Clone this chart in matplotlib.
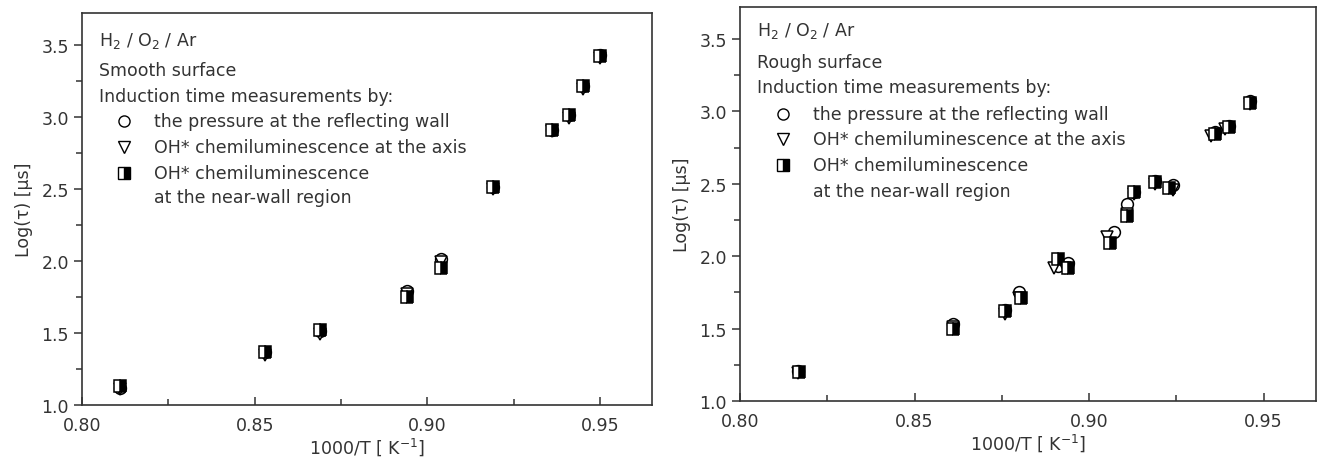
import matplotlib
matplotlib.use("Agg")
import matplotlib.pyplot as plt
from matplotlib.ticker import MultipleLocator, FormatStrFormatter

plt.rcParams["font.family"] = ["DejaVu Sans"]
plt.rcParams["mathtext.default"] = "regular"

INK = "#333333"
FS = 12.5

# smooth surface
xs = [0.811, 0.853, 0.869, 0.894, 0.904, 0.919, 0.936, 0.941, 0.945, 0.950]
ys_circ = [1.12, 1.37, 1.51, 1.79, 2.01, 2.51, 2.91, 3.01, 3.21, 3.43]
ys_tri = [1.11, 1.35, 1.49, 1.77, 1.99, 2.50, 2.90, 2.99, 3.19, 3.41]
ys_sq = [1.13, 1.37, 1.52, 1.75, 1.95, 2.51, 2.91, 3.01, 3.21, 3.42]

# rough surface
xr_circ = [0.8165, 0.861, 0.876, 0.880, 0.891, 0.894, 0.907, 0.911, 0.913, 0.919, 0.924, 0.936, 0.940, 0.946]
yr_circ = [1.21, 1.53, 1.63, 1.75, 1.93, 1.95, 2.17, 2.36, 2.44, 2.52, 2.49, 2.86, 2.90, 3.07]
xr_tri = [0.8165, 0.861, 0.876, 0.880, 0.890, 0.893, 0.905, 0.911, 0.913, 0.919, 0.924, 0.935, 0.939, 0.946]
yr_tri = [1.19, 1.51, 1.60, 1.71, 1.92, 1.92, 2.13, 2.29, 2.43, 2.50, 2.46, 2.83, 2.88, 3.05]
xr_sq = [0.817, 0.861, 0.876, 0.8805, 0.891, 0.894, 0.906, 0.911, 0.913, 0.919, 0.923, 0.936, 0.940, 0.946]
yr_sq = [1.20, 1.50, 1.62, 1.71, 1.98, 1.92, 2.09, 2.28, 2.44, 2.51, 2.47, 2.84, 2.89, 3.06]

legend_labels = ["the pressure at the reflecting wall",
                 "OH* chemiluminescence at the axis",
                 "OH* chemiluminescence",
                 "at the near-wall region"]

fig = plt.figure(figsize=(13.17, 4.6), dpi=100)
axL = fig.add_axes([0.0623, 0.1174, 0.4327, 0.8522])
axR = fig.add_axes([0.5619, 0.1261, 0.4373, 0.8565])


def draw(ax, xc, yc, xt, yt, xq, yq):
    ax.plot(xc, yc, "o", ms=8.5, mfc="white", mec="black", mew=1.1, ls="none")
    ax.plot(xt, yt, "v", ms=8.5, mfc="white", mec="black", mew=1.1, ls="none")
    ax.plot(xq, yq, "s", ms=8.5, fillstyle="right", mfc="black", mfcalt="white",
            mec="black", mew=1.1, ls="none")


def style(ax, surface, ty, tx=(0.03, 0.074, 0.127)):
    ax.set_xlim(0.80, 0.965)
    ax.set_ylim(1.0, 3.72)
    ax.xaxis.set_major_locator(MultipleLocator(0.05))
    ax.xaxis.set_minor_locator(MultipleLocator(0.025))
    ax.yaxis.set_major_locator(MultipleLocator(0.5))
    ax.yaxis.set_minor_locator(MultipleLocator(0.25))
    ax.xaxis.set_major_formatter(FormatStrFormatter("%.2f"))
    ax.yaxis.set_major_formatter(FormatStrFormatter("%.1f"))
    ax.tick_params(axis="x", which="major", direction="in", length=6, width=1.1, color=INK,
                   labelsize=FS, labelcolor=INK, pad=8)
    ax.tick_params(axis="x", which="minor", direction="in", length=4, width=1.1, color=INK)
    ax.tick_params(axis="y", which="major", direction="out", length=6, width=1.1, color=INK,
                   labelsize=FS, labelcolor=INK)
    ax.tick_params(axis="y", which="minor", direction="out", length=4, width=1.1, color=INK)
    for s in ax.spines.values():
        s.set_color(INK)
        s.set_linewidth(1.2)
    ax.set_xlabel("1000/T [ K$^{-1}$]", fontsize=FS, color=INK, labelpad=1)
    ax.set_ylabel("Log(τ) [μs]", fontsize=FS, color=INK, labelpad=6)

    kw = dict(transform=ax.transAxes, fontsize=FS, color=INK, va="center")
    ax.text(tx[0], ty[0], "H$_2$ / O$_2$ / Ar", **kw)
    ax.text(tx[0], ty[1], surface, **kw)
    ax.text(tx[0], ty[2], "Induction time measurements by:", **kw)
    mk = dict(transform=ax.transAxes, ms=8, mec="black", mew=1.0, ls="none", clip_on=False)
    ax.plot([tx[1]], [ty[3]], "o", mfc="white", **mk)
    ax.plot([tx[1]], [ty[4]], "v", mfc="white", **mk)
    ax.plot([tx[1]], [ty[5]], "s", fillstyle="right", mfc="black", mfcalt="white", **mk)
    for lab, y in zip(legend_labels, ty[3:]):
        ax.text(tx[2], y, lab, **kw)


draw(axL, xs, ys_circ, xs, ys_tri, xs, ys_sq)
draw(axR, xr_circ, yr_circ, xr_tri, yr_tri, xr_sq, yr_sq)
style(axL, "Smooth surface", [0.931, 0.855, 0.788, 0.724, 0.658, 0.592, 0.531])
style(axR, "Rough surface", [0.942, 0.860, 0.797, 0.728, 0.665, 0.599, 0.533])

fig.savefig("out.png", dpi=100)
